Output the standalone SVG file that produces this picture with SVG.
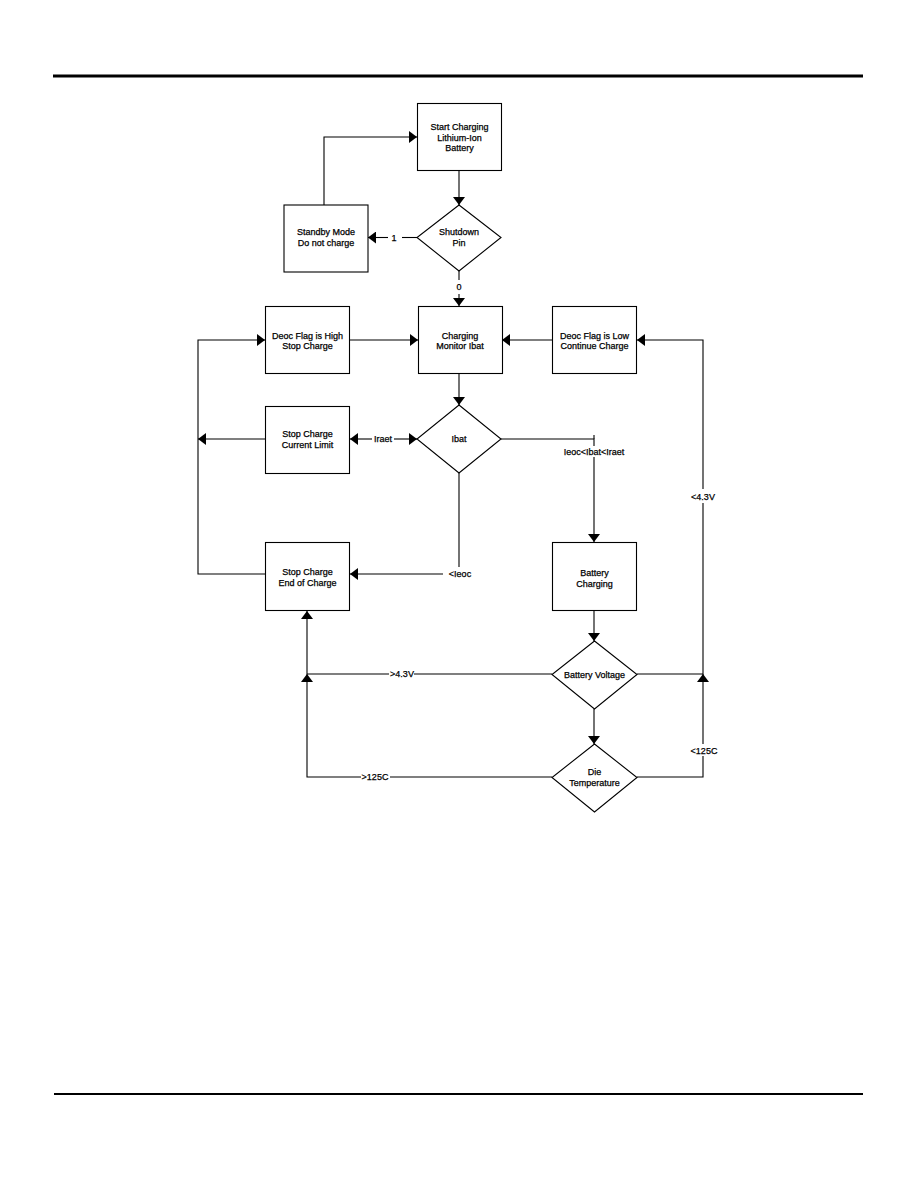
<svg xmlns="http://www.w3.org/2000/svg" width="918" height="1188" viewBox="0 0 918 1188">
<style>
.n{fill:#fff;stroke:#000;stroke-width:1.1}
.t{font-family:"Liberation Sans",Arial,sans-serif;font-size:9px;fill:#000;stroke:#000;stroke-width:0.25;text-anchor:middle}
.c{fill:none;stroke:#000;stroke-width:1.1}
.bg{fill:#fff}
</style>
<defs>
<marker id="ah" viewBox="0 0 8 12" refX="8" refY="6" markerWidth="8" markerHeight="12" markerUnits="userSpaceOnUse" orient="auto">
<path d="M0,0 L8,6 L0,12 z" fill="#000"/>
</marker>
</defs>
<rect width="918" height="1188" fill="#fff"/>
<g id="rules">
<line x1="53" y1="76" x2="863" y2="76" stroke="#000" stroke-width="3"/>
<line x1="54" y1="1094" x2="863" y2="1094" stroke="#000" stroke-width="2"/>
</g>
<g id="connectors">
<path class="c" d="M459,171 V205" marker-end="url(#ah)"/>
<path class="c" d="M417,237.5 H402"/>
<path class="c" d="M388,237.5 H368" marker-end="url(#ah)"/>
<path class="c" d="M324,205 V137 H417" marker-end="url(#ah)"/>
<path class="c" d="M459,271 V280"/>
<path class="c" d="M459,294 V306" marker-end="url(#ah)"/>
<path class="c" d="M350,340 H418" marker-end="url(#ah)"/>
<path class="c" d="M552,340 H502" marker-end="url(#ah)"/>
<path class="c" d="M459,374 V405" marker-end="url(#ah)"/>
<path class="c" d="M394,439 H417" marker-end="url(#ah)"/>
<path class="c" d="M372,439 H350" marker-end="url(#ah)"/>
<path class="c" d="M265,439 H198" marker-end="url(#ah)"/>
<path class="c" d="M501,439 H594 V542" marker-end="url(#ah)"/>
<path class="c" d="M594,435 V439"/>
<path class="c" d="M459,473 V567"/>
<path class="c" d="M443,574 H350" marker-end="url(#ah)"/>
<path class="c" d="M265,574 H198 V340 H265" marker-end="url(#ah)"/>
<path class="c" d="M594,611 V641" marker-end="url(#ah)"/>
<path class="c" d="M594,709 V744" marker-end="url(#ah)"/>
<path class="c" d="M552,674 H414"/>
<path class="c" d="M389,674 H307"/>
<path class="c" d="M552,777 H390"/>
<path class="c" d="M361,777 H307 V674" marker-end="url(#ah)"/>
<path class="c" d="M307,674 V611" marker-end="url(#ah)"/>
<path class="c" d="M637,777 H703 V674" marker-end="url(#ah)"/>
<path class="c" d="M637,674 H703 V340 H637" marker-end="url(#ah)"/>
<rect class="bg" x="562" y="446" width="64" height="11"/>
<rect class="bg" x="690" y="489" width="26" height="14"/>
<rect class="bg" x="689" y="744" width="30" height="12"/>
<text class="t" x="394" y="241">1</text>
<text class="t" x="459" y="289.5">0</text>
<text class="t" x="383" y="442">Iraet</text>
<text class="t" x="594" y="455">Ieoc&lt;Ibat&lt;Iraet</text>
<text class="t" x="460" y="577">&lt;Ieoc</text>
<text class="t" x="703" y="500">&lt;4.3V</text>
<text class="t" x="402" y="677">&gt;4.3V</text>
<text class="t" x="375" y="780">&gt;125C</text>
<text class="t" x="704" y="753.5">&lt;125C</text>
</g>
<g id="start">
<rect class="n" x="417.5" y="103.5" width="84" height="67"/>
<text class="t" x="459.5" y="130">Start Charging</text>
<text class="t" x="459.5" y="140.5">Lithium-Ion</text>
<text class="t" x="459.5" y="151">Battery</text>
</g>
<g id="shutdown">
<polygon class="n" points="459,205 501,237.5 459,271 417,237.5"/>
<text class="t" x="459" y="235">Shutdown</text>
<text class="t" x="459" y="245.5">Pin</text>
</g>
<g id="standby">
<rect class="n" x="284" y="205" width="84" height="67"/>
<text class="t" x="326" y="235">Standby Mode</text>
<text class="t" x="326" y="245.5">Do not charge</text>
</g>
<g id="deoc-high">
<rect class="n" x="265.5" y="306.5" width="84" height="67"/>
<text class="t" x="307.5" y="338.5">Deoc Flag is High</text>
<text class="t" x="307.5" y="349">Stop Charge</text>
</g>
<g id="charging">
<rect class="n" x="418.5" y="306.5" width="84" height="67"/>
<text class="t" x="460" y="338.5">Charging</text>
<text class="t" x="460" y="349">Monitor Ibat</text>
</g>
<g id="deoc-low">
<rect class="n" x="552.5" y="306.5" width="84" height="67"/>
<text class="t" x="594.5" y="338.5">Deoc Flag is Low</text>
<text class="t" x="594.5" y="349">Continue Charge</text>
</g>
<g id="ibat">
<polygon class="n" points="459,405 501,439 459,473 417,439"/>
<text class="t" x="459" y="442">Ibat</text>
</g>
<g id="current-limit">
<rect class="n" x="265.5" y="406.5" width="84" height="67"/>
<text class="t" x="307.5" y="436.5">Stop Charge</text>
<text class="t" x="307.5" y="447.5">Current Limit</text>
</g>
<g id="end-of-charge">
<rect class="n" x="265.5" y="542.5" width="84" height="68"/>
<text class="t" x="307.5" y="575">Stop Charge</text>
<text class="t" x="307.5" y="585.5">End of Charge</text>
</g>
<g id="battery-charging">
<rect class="n" x="552.5" y="542.5" width="84" height="68"/>
<text class="t" x="594.5" y="575.5">Battery</text>
<text class="t" x="594.5" y="587">Charging</text>
</g>
<g id="battery-voltage">
<polygon class="n" points="594.5,641 637,674.5 594.5,709 552,674.5"/>
<text class="t" x="594.5" y="677.5">Battery Voltage</text>
</g>
<g id="die-temperature">
<polygon class="n" points="594.5,744 637,777.5 594.5,812 552,777.5"/>
<text class="t" x="594.5" y="775">Die</text>
<text class="t" x="594.5" y="785.5">Temperature</text>
</g>
</svg>
